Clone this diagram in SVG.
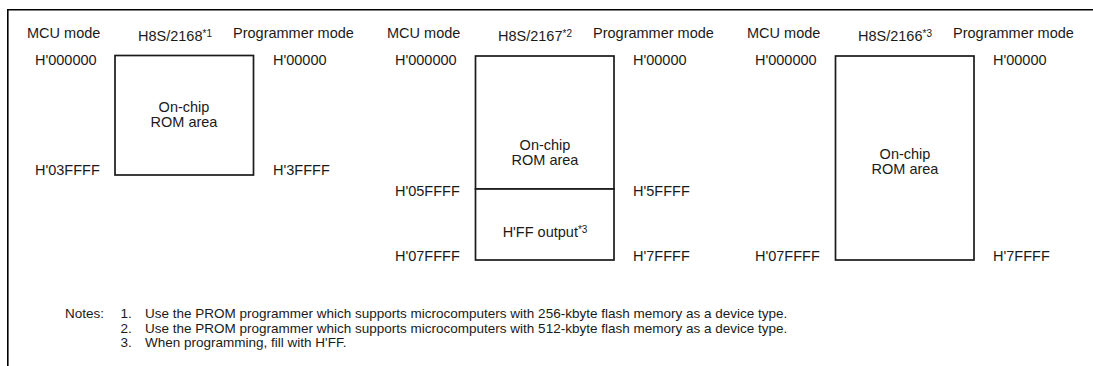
<svg xmlns="http://www.w3.org/2000/svg" width="1093" height="366" viewBox="0 0 1093 366">
<style>
text{font-family:"Liberation Sans",Arial,sans-serif;fill:#1a1a1a;font-size:14.5px}
.c{text-anchor:middle}
.n{font-size:13.5px}
.sup{font-size:10px}
.box{fill:#fff;stroke:#1a1a1a;stroke-width:1.7}
.frame{fill:none;stroke:#000;stroke-width:1.6}
</style>
<rect width="1093" height="366" fill="#fff"/>
<g id="frame">
<path class="frame" d="M7.8 366 V9.8 H1093"/>
</g>
<g id="panel1">
<text x="27" y="38">MCU mode</text>
<text x="138" y="41">H8S/2168<tspan class="sup" dy="-4">*1</tspan></text>
<text x="233" y="38">Programmer mode</text>
<text x="35" y="65">H'000000</text>
<text x="35" y="175">H'03FFFF</text>
<text x="273" y="65">H'00000</text>
<text x="273" y="175">H'3FFFF</text>
<g id="rom1">
<rect class="box" x="115" y="55.5" width="138.5" height="119.5"/>
<text class="c" x="184" y="112">On-chip</text>
<text class="c" x="184" y="127">ROM area</text>
</g>
</g>
<g id="panel2">
<text x="387" y="38">MCU mode</text>
<text x="498" y="41">H8S/2167<tspan class="sup" dy="-4">*2</tspan></text>
<text x="593" y="38">Programmer mode</text>
<text x="395" y="65">H'000000</text>
<text x="395" y="196">H'05FFFF</text>
<text x="395" y="260.5">H'07FFFF</text>
<text x="633" y="65">H'00000</text>
<text x="633" y="196">H'5FFFF</text>
<text x="633" y="260.5">H'7FFFF</text>
<g id="rom2">
<rect class="box" x="475.5" y="56" width="138.5" height="133"/>
<text class="c" x="545" y="150">On-chip</text>
<text class="c" x="545" y="165">ROM area</text>
</g>
<g id="ff2">
<rect class="box" x="475.5" y="189" width="138.5" height="71"/>
<text class="c" x="545" y="237">H'FF output<tspan class="sup" dy="-4">*3</tspan></text>
</g>
</g>
<g id="panel3">
<text x="747" y="38">MCU mode</text>
<text x="858" y="41">H8S/2166<tspan class="sup" dy="-4">*3</tspan></text>
<text x="953" y="38">Programmer mode</text>
<text x="755" y="65">H'000000</text>
<text x="755" y="260.5">H'07FFFF</text>
<text x="993" y="65">H'00000</text>
<text x="993" y="260.5">H'7FFFF</text>
<g id="rom3">
<rect class="box" x="835.5" y="56" width="138.5" height="204"/>
<text class="c" x="905" y="159">On-chip</text>
<text class="c" x="905" y="174">ROM area</text>
</g>
</g>
<g id="notes">
<text class="n" x="65" y="318">Notes:</text>
<text class="n" x="120.5" y="318">1.</text>
<text class="n" x="145" y="318">Use the PROM programmer which supports microcomputers with 256-kbyte flash memory as a device type.</text>
<text class="n" x="120.5" y="332.5">2.</text>
<text class="n" x="145" y="332.5">Use the PROM programmer which supports microcomputers with 512-kbyte flash memory as a device type.</text>
<text class="n" x="120.5" y="347">3.</text>
<text class="n" x="145" y="347">When programming, fill with H'FF.</text>
</g>
</svg>
